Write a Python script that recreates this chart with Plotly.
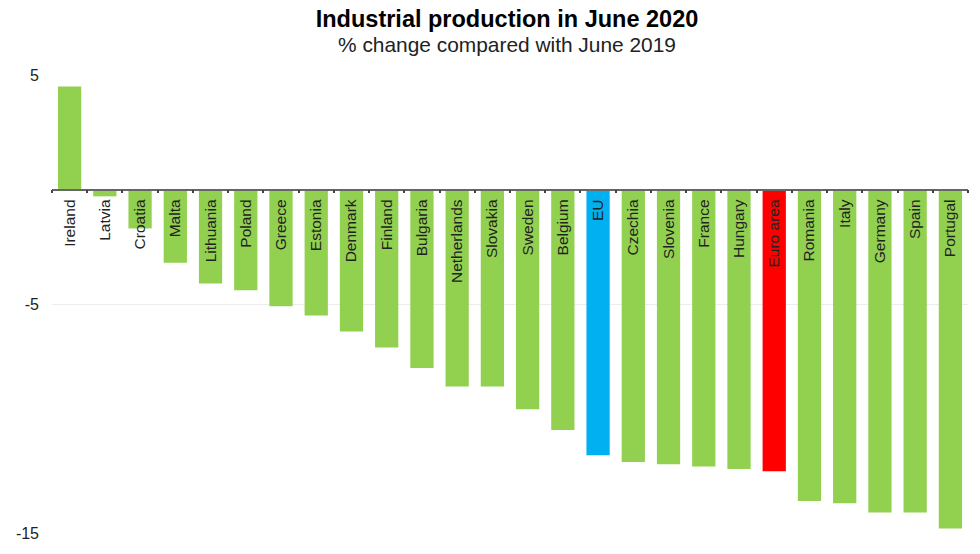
import plotly.graph_objs as go

# Values
countries = ['Ireland', 'Latvia', 'Croatia', 'Malta', 'Lithuania', 'Poland', 'Greece', 'Estonia',
             'Denmark', 'Finland', 'Bulgaria', 'Netherlands', 'Slovakia', 'Sweden', 'Belgium', 'EU',
             'Czechia', 'Slovenia', 'France', 'Hungary', 'Euro area', 'Romania', 'Italy', 'Germany',
             'Spain', 'Portugal']
change = [4.5, -0.3, -1.7, -3.2, -4.1, -4.4, -5.1, -5.5, -6.2, -6.9, -7.8, -8.6, -8.6, -9.6,
          -10.5, -11.6, -11.9, -12.0, -12.1, -12.2, -12.3, -13.6, -13.7, -14.1, -14.1, -14.8]
y_ticks = [-15, -5, 5]

GREEN = '#92d050'
colors = [GREEN] * len(countries)
colors[countries.index('EU')] = '#00b0f0'
colors[countries.index('Euro area')] = '#ff0000'

data = [go.Bar(x=countries, y=change, marker=dict(color=colors, line_width=0), width=0.66)]

# The page has an 8px body margin, so the figure is 8px smaller than the window
layout = go.Layout(
    width=972, height=546, paper_bgcolor='white', plot_bgcolor='white', showlegend=False,
    margin=dict(l=44, r=12, t=67, b=21),
    font=dict(family='Liberation Sans', color='#222222'),
    title=dict(text='<b>Industrial production in June 2020</b>',
               x=0.5134, xanchor='center', yref='container', y=0.995, yanchor='top',
               font=dict(size=23.5, color='black')),
    # x axis crosses at zero: 5 / 20 of the way down the plot
    xaxis=dict(type='category', range=[-0.5, 25.5], anchor='free', position=0.75, automargin=False,
               showline=True, linecolor='#666666', linewidth=1.5,
               ticks='outside', tickson='boundaries', ticklen=3, tickcolor='#444444', tickwidth=1.5,
               tickangle=-90, tickfont=dict(size=15.5, color='#222222'), ticklabelstandoff=3,
               showgrid=False, zeroline=False),
    yaxis=dict(range=[-15, 5], tickvals=y_ticks, ticktext=[str(v) for v in y_ticks], automargin=False,
               showgrid=True, gridcolor='#ececec', gridwidth=1, zeroline=False,
               tickfont=dict(size=16, color='#222222'), ticks='', ticklabelstandoff=12),
    # subtitle
    annotations=[dict(text='% change compared with June 2019', xref='paper', yref='paper',
                      x=0.4967, y=1, xanchor='center', yanchor='middle', yshift=31,
                      showarrow=False, font=dict(size=20.9, color='#222222'))],
)

fig = go.Figure(data=data, layout=layout)
fig.write_html("out.html")
